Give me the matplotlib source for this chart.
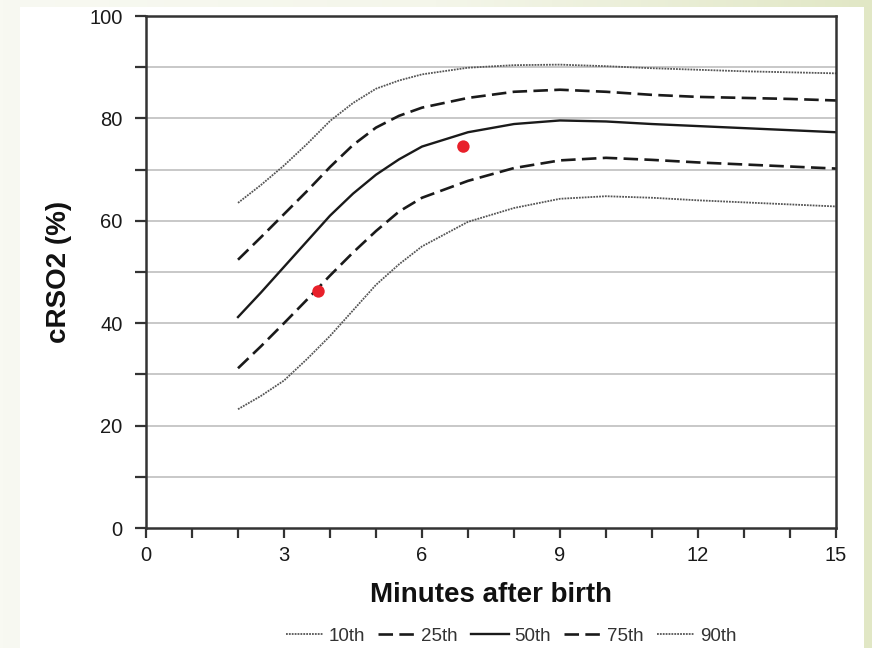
import numpy as np
import matplotlib
matplotlib.use("Agg")
from matplotlib import pyplot
from matplotlib.colors import LinearSegmentedColormap

# percentile curves of cerebral oxygenation after birth
minutes = [2, 2.5, 3, 3.5, 4, 4.5, 5, 5.5, 6, 7, 8, 9, 10, 11, 12, 13, 14, 15]
p10 = [23.2, 25.8, 28.8, 33.0, 37.5, 42.5, 47.5, 51.5, 55.0, 59.8, 62.5, 64.3,
       64.8, 64.5, 64.0, 63.6, 63.2, 62.8]
p25 = [31.2, 35.5, 40.0, 44.6, 49.3, 53.8, 58.0, 61.8, 64.5, 67.8, 70.3, 71.8,
       72.3, 71.9, 71.4, 71.0, 70.6, 70.2]
p50 = [41.2, 46.0, 51.0, 56.0, 61.0, 65.3, 69.0, 72.0, 74.5, 77.3, 78.9, 79.6,
       79.4, 78.9, 78.5, 78.1, 77.7, 77.3]
p75 = [52.4, 56.8, 61.3, 65.8, 70.5, 74.8, 78.2, 80.5, 82.1, 84.0, 85.2, 85.6,
       85.2, 84.6, 84.2, 84.0, 83.8, 83.5]
p90 = [63.5, 67.0, 70.8, 75.0, 79.5, 83.0, 85.8, 87.4, 88.6, 89.9, 90.4, 90.5,
       90.2, 89.8, 89.5, 89.2, 89.0, 88.8]

# measured points (red dots)
dot_minutes = [3.75, 6.9]
dot_values = [46.2, 74.5]

x_ticks = [0, 3, 6, 9, 12, 15]
y_ticks = [0, 20, 40, 60, 80, 100]

pyplot.rcParams['font.family'] = ['Liberation Sans', 'DejaVu Sans']

fig = pyplot.figure(figsize=(8.72, 6.48), dpi=100)

# slide background: pale gradient with a white panel
bg = fig.add_axes((0, 0, 1, 1), zorder=-10)
grad = np.linspace(0, 1, 256).reshape(1, -1)
cmap = LinearSegmentedColormap.from_list('bg', ['#f8f9f2', '#f4f6ea', '#e1e7c5'])
bg.imshow(grad, aspect='auto', cmap=cmap, extent=(0, 1, 0, 1))
bg.add_patch(pyplot.Rectangle((20 / 872, 0), 844 / 872, 1 - 7 / 648,
                              facecolor='white', edgecolor='none'))
bg.set_xlim(0, 1)
bg.set_ylim(0, 1)
bg.axis('off')

# blank space between edge of figure and active plot area
left_buffer = 146 / 872
right_buffer = 1 - 836 / 872
bottom_buffer = 1 - 528 / 648
top_buffer = 16 / 648

axes = fig.add_axes((left_buffer, bottom_buffer,
                     1 - left_buffer - right_buffer,
                     1 - bottom_buffer - top_buffer))
axes.set_facecolor('none')

dotted = (0, (1.0, 0.6))
dashed = (0, (5.5, 2.4))

axes.plot(minutes, p10, color='#555555', linestyle=dotted, linewidth=1.3,
          label='10th')
axes.plot(minutes, p25, color='#1a1a1a', linestyle=dashed, linewidth=1.9,
          label='25th')
axes.plot(minutes, p50, color='#1a1a1a', linestyle='-', linewidth=1.7,
          label='50th')
axes.plot(minutes, p75, color='#1a1a1a', linestyle=dashed, linewidth=1.9,
          label='75th')
axes.plot(minutes, p90, color='#555555', linestyle=dotted, linewidth=1.3,
          label='90th')

axes.scatter(dot_minutes, dot_values, s=80, color='#e8202a', zorder=5,
             edgecolors='none')

# horizontal grid every 10
for yy in range(10, 100, 10):
    axes.axhline(yy, color='#c4c4c4', linewidth=1.3, zorder=0)

axes.set_xlim(0, 15)
axes.set_ylim(0, 100)
axes.set_xticks(x_ticks)
axes.set_xticks(range(0, 16), minor=True)
axes.set_yticks(y_ticks)
axes.set_yticks(range(0, 101, 10), minor=True)
axes.tick_params(axis='x', which='both', direction='out', length=7, width=1.6,
                 color='#333333', labelsize=14.5, pad=6, labelcolor='#1a1a1a')
axes.tick_params(axis='y', which='both', direction='out', length=8, width=1.6,
                 color='#333333', labelsize=14.5, pad=9, labelcolor='#1a1a1a')

for spine in axes.spines.values():
    spine.set_linewidth(1.8)
    spine.set_color('#333333')

axes.set_xlabel('Minutes after birth', fontsize=20, fontweight='bold',
                labelpad=12, color='#111111')
axes.set_ylabel('cRSO2 (%)', fontsize=20, fontweight='bold',
                labelpad=12, color='#111111')

fig.legend(*axes.get_legend_handles_labels(), loc='center',
           bbox_to_anchor=(511 / 872, 1 - 636 / 648), ncol=5, frameon=False,
           fontsize=13.5, handlelength=2.0, handletextpad=0.3, columnspacing=0.7,
           labelcolor='#333333')

fig.savefig('out.png', dpi=100)
